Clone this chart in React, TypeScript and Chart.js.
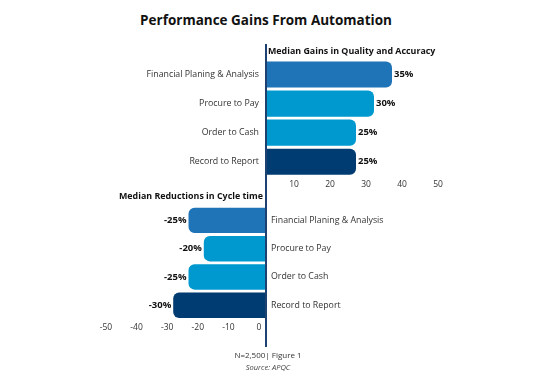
import React, { useEffect, useRef } from "react";
import { Chart, registerables } from "chart.js";

Chart.register(...registerables);

const categories = ["Financial Planing & Analysis", "Procure to Pay", "Order to Cash", "Record to Report"];
const gainValues = [35, 30, 25, 25];
const reductionValues = [-25, -20, -25, -30];
const barColors = ["#1f73b7", "#0099cf", "#0099cf", "#003b71"];
const gainTicks = [10, 20, 30, 40, 50];
const reductionTicks = [-50, -40, -30, -20, -10, 0];

const FONT = "'Open Sans', 'DejaVu Sans', sans-serif";

const valueLabelPlugin = {
  id: "valueLabels",
  afterDatasetsDraw(chart: any) {
    const ctx = chart.ctx;
    const meta = chart.getDatasetMeta(0);
    const data = chart.data.datasets[0].data as number[];
    ctx.save();
    ctx.font = `bold 9.5px ${FONT}`;
    ctx.fillStyle = "#111111";
    ctx.textBaseline = "middle";
    meta.data.forEach((bar: any, i: number) => {
      const v = data[i];
      if (v >= 0) {
        ctx.textAlign = "left";
        ctx.fillText(`${v}%`, bar.x + 2, bar.y);
      } else {
        ctx.textAlign = "right";
        ctx.fillText(`${v}%`, bar.x - 2, bar.y);
      }
    });
    ctx.restore();
  },
};

function GainsChart() {
  const ref = useRef<HTMLCanvasElement>(null);
  useEffect(() => {
    const chart = new Chart(ref.current!, {
      type: "bar",
      data: {
        labels: categories,
        datasets: [
          {
            data: gainValues,
            backgroundColor: barColors,
            borderRadius: 6,
            borderSkipped: "start",
            barPercentage: 0.9,
            categoryPercentage: 1,
          },
        ],
      },
      options: {
        indexAxis: "y",
        animation: false,
        responsive: false,
        maintainAspectRatio: false,
        layout: { padding: { top: 20, right: 90, bottom: 7.5, left: 0 } },
        plugins: { legend: { display: false }, tooltip: { enabled: false }, title: { display: false } },
        scales: {
          x: {
            min: 0,
            max: 50,
            grid: { display: false, drawTicks: false },
            border: { display: false },
            afterBuildTicks: (s: any) => {
              s.ticks = gainTicks.map((v) => ({ value: v }));
            },
            ticks: {
              autoSkip: false,
              maxRotation: 0,
              padding: 3,
              labelOffset: -8,
              color: "#333333",
              font: { family: FONT, size: 8.5 },
            },
          },
          y: {
            grid: { display: false, drawTicks: false },
            border: { display: false },
            afterFit: (s: any) => {
              s.width = 266;
            },
            ticks: {
              padding: 7,
              color: "#333333",
              font: { family: FONT, size: 8.8 },
            },
          },
        },
      },
      plugins: [valueLabelPlugin],
    });
    return () => chart.destroy();
  }, []);
  return (
    <canvas
      ref={ref}
      width={536}
      height={160}
      style={{ position: "absolute", left: 0, top: 40, width: 536, height: 160 }}
    />
  );
}

function ReductionsChart() {
  const ref = useRef<HTMLCanvasElement>(null);
  useEffect(() => {
    const chart = new Chart(ref.current!, {
      type: "bar",
      data: {
        labels: categories,
        datasets: [
          {
            data: reductionValues,
            backgroundColor: barColors,
            borderRadius: 6,
            borderSkipped: "start",
            barPercentage: 0.9,
            categoryPercentage: 1,
          },
        ],
      },
      options: {
        indexAxis: "y",
        animation: false,
        responsive: false,
        maintainAspectRatio: false,
        layout: { padding: { top: 7, right: 0, bottom: 9.5, left: 112 } },
        plugins: { legend: { display: false }, tooltip: { enabled: false }, title: { display: false } },
        scales: {
          x: {
            min: -50,
            max: 0,
            grid: { display: false, drawTicks: false },
            border: { display: false },
            afterBuildTicks: (s: any) => {
              s.ticks = reductionTicks.map((v) => ({ value: v }));
            },
            ticks: {
              autoSkip: false,
              maxRotation: 0,
              padding: 3,
              labelOffset: -6,
              color: "#333333",
              font: { family: FONT, size: 8.5 },
            },
          },
          y: {
            position: "right",
            grid: { display: false, drawTicks: false },
            border: { display: false },
            afterFit: (s: any) => {
              s.width = 271;
            },
            ticks: {
              padding: 6,
              color: "#333333",
              font: { family: FONT, size: 8.8 },
            },
          },
        },
      },
      plugins: [valueLabelPlugin],
    });
    return () => chart.destroy();
  }, []);
  return (
    <canvas
      ref={ref}
      width={536}
      height={150}
      style={{ position: "absolute", left: 0, top: 195, width: 536, height: 150 }}
    />
  );
}

export default function App() {
  return (
    <div
      style={{
        position: "fixed",
        left: 0,
        top: 0,
        width: 536,
        height: 379,
        background: "#ffffff",
        overflow: "hidden",
        fontFamily: FONT,
      }}
    >
      <div
        style={{
          position: "absolute",
          left: 0,
          width: 532,
          top: 10,
          textAlign: "center",
          fontWeight: 700,
          fontSize: 13.5,
          lineHeight: "20px",
          color: "#111111",
        }}
      >
        Performance Gains From Automation
      </div>
      <GainsChart />
      <ReductionsChart />
      <div
        style={{
          position: "absolute",
          left: 268,
          top: 45,
          fontWeight: 700,
          fontSize: 8.9,
          lineHeight: "12px",
          color: "#111111",
          whiteSpace: "nowrap",
        }}
      >
        Median Gains in Quality and Accuracy
      </div>
      <div
        style={{
          position: "absolute",
          right: 536 - 263,
          top: 190,
          fontWeight: 700,
          fontSize: 8.9,
          lineHeight: "12px",
          color: "#111111",
          whiteSpace: "nowrap",
        }}
      >
        Median Reductions in Cycle time
      </div>
      <div
        style={{
          position: "absolute",
          left: 265,
          top: 44,
          width: 2,
          height: 303,
          background: "#1d4272",
        }}
      />
      <div
        style={{
          position: "absolute",
          left: 0,
          width: 536,
          top: 349,
          fontSize: 8,
          lineHeight: "12px",
          color: "#333333",
        }}
      >
        <span style={{ position: "absolute", left: 268, transform: "translateX(-50%)", whiteSpace: "nowrap" }}>
          N=2,500| Figure 1
        </span>
      </div>
      <div
        style={{
          position: "absolute",
          left: 0,
          width: 536,
          top: 361,
          fontSize: 7.5,
          fontStyle: "italic",
          lineHeight: "12px",
          color: "#444444",
        }}
      >
        <span style={{ position: "absolute", left: 268, transform: "translateX(-50%)", whiteSpace: "nowrap" }}>
          Source: APQC
        </span>
      </div>
    </div>
  );
}
